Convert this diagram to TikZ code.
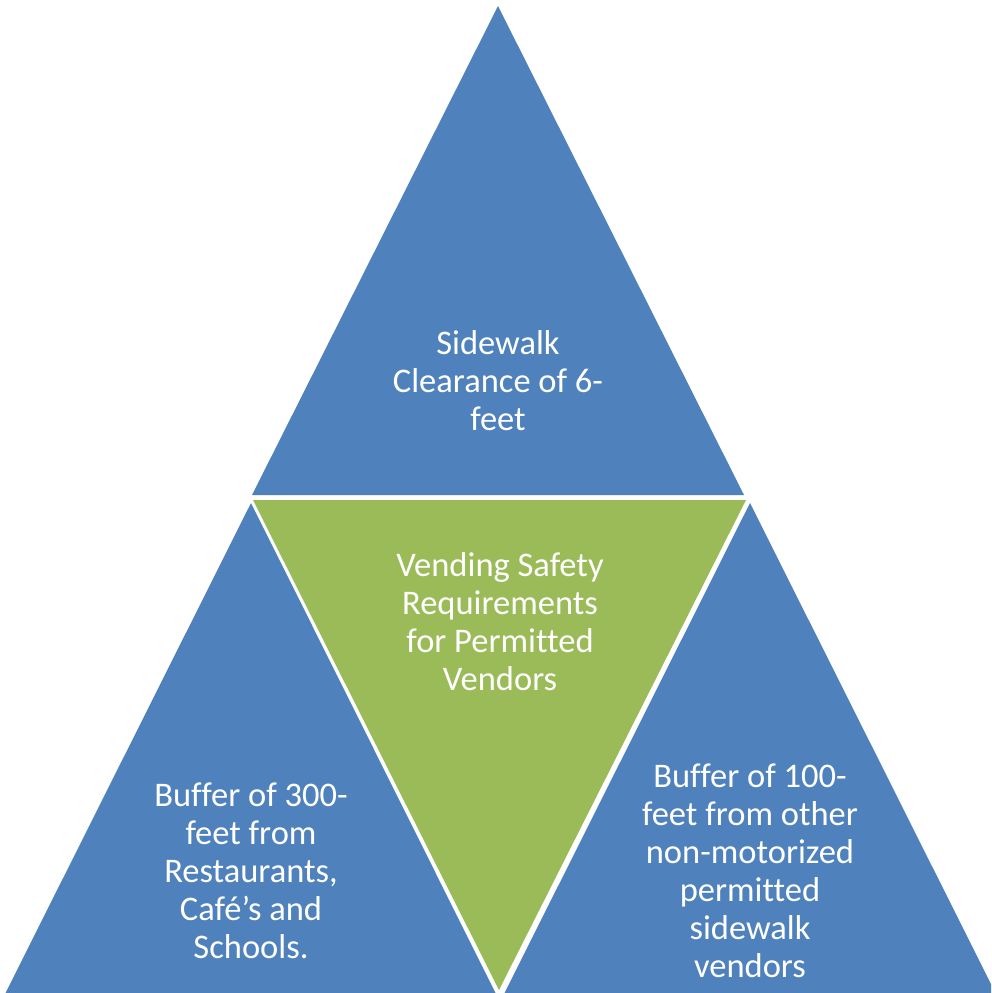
\documentclass[tikz,border=0pt]{standalone}
\usepackage{fontspec}
\setmainfont[Ligatures={NoCommon}]{Carlito}
\definecolor{triblue}{HTML}{4F81BD}
\definecolor{trigreen}{HTML}{9BBB59}
\begin{document}
\begin{tikzpicture}[x=1pt,y=-1pt,
  lbl/.style={text=white,align=center,font=\fontsize{34.5}{38}\selectfont,inner sep=0pt}]
\useasboundingbox (0,0) rectangle (991,993);
\clip (0,0) rectangle (991,993);
\fill[triblue] (498,6) -- (744,495) -- (252,495) -- cycle;
\fill[trigreen] (253,500) -- (746,500) -- (499,990) -- cycle;
\fill[triblue] (251,503) -- (497,996) -- (4,996) -- cycle;
\fill[triblue] (750,503) -- (997,996) -- (503,996) -- cycle;
\node[lbl] (top) at (498,381) {Sidewalk\\Clearance of 6-\\feet};
\node[lbl] (mid) at (500,622) {Vending Safety\\Requirements\\for Permitted\\Vendors};
\node[lbl] (left) at (251,871) {Buffer of 300-\\feet from\\Restaurants,\\Café’s and\\Schools.};
\node[lbl] (right) at (750,871) {Buffer of 100-\\feet from other\\non-motorized\\permitted\\sidewalk\\vendors};
\end{tikzpicture}
\end{document}
